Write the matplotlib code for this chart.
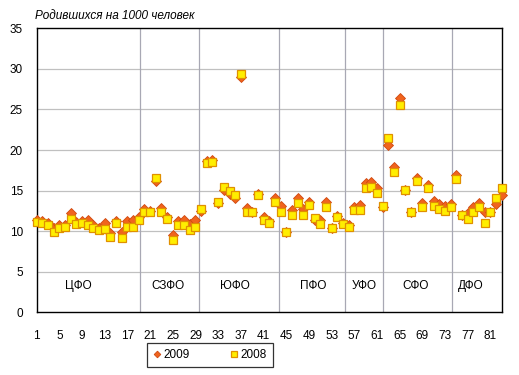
import numpy as np
import matplotlib.pyplot as plt

# births per 1000 people by region (index 1..83)
births_2009 = [11.4, 11.3, 11.0, 10.4, 10.7, 10.7, 12.2, 11.1, 11.2, 11.4,
               10.7, 10.4, 11.0, 9.8, 11.3, 9.9, 11.2, 11.4, 11.8, 12.7,
               12.5, 16.2, 12.8, 11.8, 9.5, 11.2, 11.4, 10.9, 11.4, 12.5,
               18.7, 18.8, 13.5, 15.1, 14.6, 14.1, 29.0, 12.8, 12.3, 14.6,
               11.8, 11.2, 14.1, 13.1, 9.9, 12.6, 14.1, 12.7, 13.6, 11.4,
               11.4, 13.6, 10.4, 11.9, 11.0, 10.7, 13.0, 13.2, 15.9, 16.1,
               15.3, 13.0, 20.6, 17.9, 26.4, 15.1, 12.4, 16.5, 13.5, 15.7,
               13.75, 13.35, 13.1, 13.4, 16.9, 12.0, 12.2, 13.0, 13.5, 12.3,
               12.3, 13.35, 14.45]
births_2008 = [11.1, 11.0, 10.8, 9.9, 10.4, 10.55, 11.5, 10.85, 11.0, 10.75,
               10.35, 10.2, 10.25, 9.3, 11.0, 9.1, 10.55, 10.5, 11.4, 12.4,
               12.3, 16.6, 12.4, 11.5, 8.9, 10.75, 10.75, 10.1, 10.55, 12.7,
               18.4, 18.5, 13.6, 15.4, 15.0, 14.4, 29.4, 12.4, 12.3, 14.4,
               11.4, 11.0, 13.55, 12.4, 9.9, 12.0, 13.5, 12.0, 13.2, 11.6,
               10.85, 13.0, 10.35, 11.7, 10.9, 10.55, 12.6, 12.6, 15.35, 15.5,
               14.7, 13.1, 21.5, 17.3, 25.55, 15.1, 12.4, 16.2, 13.0, 15.3,
               13.1, 12.7, 12.5, 13.0, 16.4, 12.0, 11.45, 12.4, 13.0, 11.05,
               12.4, 14.05, 15.3]

districts = ['ЦФО', 'СЗФО', 'ЮФО', 'ПФО', 'УФО', 'СФО', 'ДФО']
district_label_x = [8.3, 24.2, 36.0, 49.8, 58.8, 67.8, 77.6]
district_borders = [19.2, 29.7, 43.8, 55.4, 62.05, 74.2]

x = np.arange(1, len(births_2009) + 1)

plt.rcParams['font.family'] = ['Liberation Sans', 'DejaVu Sans']
fig = plt.figure(figsize=(5.19, 3.75), dpi=100)
ax = fig.add_axes([0.0707, 0.1672, 0.896, 0.7573])

for y in range(5, 35, 5):
    ax.axhline(y, color='#c0c0c0', lw=0.9, zorder=0)
for b in district_borders:
    ax.axvline(b, color='#a8a8b4', lw=0.9, zorder=0)

ax.plot(x, births_2009, ls='none', marker='D', ms=5.2, mfc='#f0641e',
        mec='#d04810', mew=0.6, label='2009', zorder=3, clip_on=False)
ax.plot(x, births_2008, ls='none', marker='s', ms=6.4, mfc='#ffee00',
        mec='#e09000', mew=0.9, label='2008', zorder=4, clip_on=False)

for name, lx in zip(districts, district_label_x):
    ax.text(lx, 3.2, name, ha='center', va='center', fontsize=8.5)

ax.set_xlim(1, 83)
ax.set_ylim(0, 35)
ax.set_xticks(np.arange(1, 84, 4))
ax.set_yticks(np.arange(0, 36, 5))
ax.tick_params(axis='both', labelsize=8.5, length=0)
ax.tick_params(axis='x', pad=13)
ax.tick_params(axis='y', pad=10)
for s in ax.spines.values():
    s.set_color('black')
    s.set_linewidth(1.0)

fig.text(0.068, 0.958, 'Родившихся на 1000 человек', style='italic',
         fontsize=8.5, va='center')

leg = ax.legend(loc='center', bbox_to_anchor=(0.372, -0.15), ncol=2,
                fontsize=8.5, frameon=True, fancybox=False, handlelength=0.8,
                handletextpad=0.1, columnspacing=3.4, markerscale=0.65,
                borderpad=0.5, borderaxespad=0)
leg.get_frame().set_edgecolor('black')
leg.get_frame().set_linewidth(0.9)
leg._legend_box.sep = 0
for t in leg.get_texts():
    t.set_ha('left')

plt.savefig('out.png', dpi=100)
